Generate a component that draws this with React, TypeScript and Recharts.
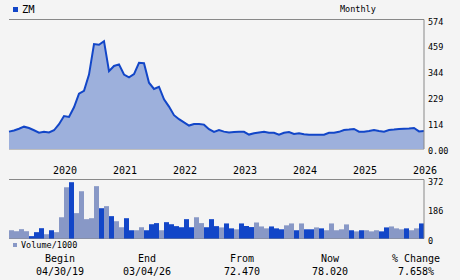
import {
  AreaChart,
  Area,
  BarChart,
  Bar,
  Cell,
  XAxis,
  YAxis,
  CartesianGrid,
} from "recharts";

// monthly closes, Apr 2019 .. Mar 2026
const price = [
  77, 82, 90, 99, 93, 83, 72, 76, 73, 83,
  110, 146, 142, 185, 245, 258, 330, 465, 462, 478,
  345, 368, 375, 330, 318, 332, 382, 380, 294, 266,
  276, 220, 188, 150, 132, 118, 104, 111, 111, 108,
  88, 76, 84, 77, 73, 75, 76, 76, 64, 70,
  73, 76, 72, 72, 63, 72, 75, 67, 70, 65,
  63, 63, 63, 63, 72, 72, 76, 84, 86, 89,
  77, 77, 80, 84, 80, 77, 84, 86, 89, 90,
  91, 93, 78, 80,
];

// volume/1000 per month
const volume = [
  52, 46, 59, 46, 15, 40, 65, 27, 52, 40,
  134, 323, 355, 160, 298, 122, 128, 330, 191, 204,
  141, 109, 71, 128, 52, 52, 71, 52, 90, 97,
  52, 103, 90, 78, 71, 122, 71, 134, 97, 71,
  122, 78, 70, 95, 64, 58, 95, 79, 72, 101,
  76, 64, 76, 64, 58, 83, 95, 52, 95, 58,
  58, 70, 64, 52, 95, 52, 58, 89, 52, 45,
  52, 52, 45, 52, 45, 70, 76, 64, 58, 64,
  52, 64, 95,
];

// 1 = dark bar, 0 = light bar
const volDark = [
  0, 0, 0, 0, 1, 1, 1, 0, 1, 0,
  0, 0, 1, 0, 0, 0, 0, 0, 1, 0,
  1, 0, 0, 1, 1, 0, 0, 1, 1, 1,
  0, 1, 1, 1, 1, 1, 1, 0, 0, 1,
  1, 1, 0, 1, 1, 0, 1, 1, 1, 0,
  0, 0, 1, 1, 1, 0, 0, 1, 0, 1,
  1, 0, 1, 0, 0, 0, 0, 0, 1, 0,
  1, 0, 0, 0, 1, 1, 0, 0, 0, 1,
  0, 0, 1,
];

const yearTicks = [9, 21, 33, 45, 57, 69, 81];
const yearLabels = ["2020", "2021", "2022", "2023", "2024", "2025", "2026"];
const priceTicks = [0, 114.8, 229.6, 344.4, 459.2, 574];
const volTicks = [0, 186, 372];

const summaryLabels = ["Begin", "End", "From", "Now", "% Change"];
const summaryValues = ["04/30/19", "03/04/26", "72.470", "78.020", "7.658%"];
const summaryCenters = [60, 147, 242, 330, 416];

const MONO = "'DejaVu Sans Mono', monospace";
const GRID = "#888888";
const DARK = "#1246c8";
const LIGHT = "#8898c6";

const priceData = price.map((p, i) => ({ i, p }));
const volData = volume.map((v, k) => ({ k, v }));

function RightTick(props: any) {
  const { x, y, payload, fmt } = props;
  return (
    <text x={x} y={y} dy={5} fontSize={8.5} fontFamily={MONO} fill="#000" textAnchor="start">
      {fmt(payload.value)}
    </text>
  );
}

function YearTick(props: any) {
  const { x, payload } = props;
  const idx = yearTicks.indexOf(payload.value);
  return (
    <text x={x - 1} y={174} fontSize={10} fontFamily={MONO} fill="#000" textAnchor="start">
      {yearLabels[idx]}
    </text>
  );
}

export default function App() {
  return (
    <div
      style={{
        position: "absolute",
        left: 0,
        top: 0,
        width: 460,
        height: 280,
        background: "#f4f4f4",
        fontFamily: MONO,
        overflow: "hidden",
      }}
    >
      {/* header */}
      <div style={{ position: "absolute", left: 13, top: 7, width: 5, height: 5, background: DARK }} />
      <div style={{ position: "absolute", left: 22, top: 3, fontSize: 10.5, lineHeight: "12px" }}>ZM</div>
      <div style={{ position: "absolute", left: 340, top: 4, fontSize: 8.5, lineHeight: "10px" }}>Monthly</div>

      <div style={{ position: "absolute", left: 0, top: 0 }}>
        <AreaChart width={460} height={180} data={priceData} margin={{ top: 19.5, right: 0, left: 9, bottom: 0 }}>
          <CartesianGrid vertical={false} stroke={GRID} strokeWidth={1} />
          <XAxis
            type="number"
            dataKey="i"
            domain={[0, 83]}
            ticks={yearTicks}
            axisLine={false}
            tickLine={false}
            height={31}
            tick={<YearTick />}
            interval={0}
          />
          <YAxis
            yAxisId="p"
            orientation="right"
            width={36}
            domain={[0, 574]}
            ticks={priceTicks}
            axisLine={{ stroke: GRID }}
            tickLine={false}
            tickSize={4}
            tickMargin={0}
            interval={0}
            tick={<RightTick fmt={(v: number) => (v === 0 ? "0.00" : String(Math.floor(v)))} />}
          />
          <YAxis yAxisId="l" orientation="left" width={0} tick={false} tickLine={false} axisLine={{ stroke: GRID }} />
          <Area
            yAxisId="p"
            type="linear"
            dataKey="p"
            stroke={DARK}
            strokeWidth={2}
            fill="#9db0dc"
            fillOpacity={1}
            dot={false}
            activeDot={false}
            isAnimationActive={false}
          />
        </AreaChart>
      </div>

      <div style={{ position: "absolute", left: 0, top: 175 }}>
        <BarChart width={460} height={72} data={volData} margin={{ top: 4.5, right: 0, left: 9, bottom: 8.5 }} barCategoryGap={0}>
          <CartesianGrid vertical={false} stroke={GRID} strokeWidth={1} />
          <XAxis dataKey="k" hide />
          <YAxis
            yAxisId="v"
            orientation="right"
            width={36}
            domain={[0, 372]}
            ticks={volTicks}
            axisLine={{ stroke: GRID }}
            tickLine={false}
            tickSize={4}
            tickMargin={0}
            interval={0}
            tick={<RightTick fmt={(v: number) => String(v)} />}
          />
          <YAxis yAxisId="l" orientation="left" width={0} tick={false} tickLine={false} axisLine={{ stroke: GRID }} />
          <Bar yAxisId="v" dataKey="v" isAnimationActive={false}>
            {volData.map((d) => (
              <Cell key={d.k} fill={volDark[d.k] ? DARK : LIGHT} />
            ))}
          </Bar>
        </BarChart>
      </div>

      {/* volume legend */}
      <div style={{ position: "absolute", left: 13, top: 243, width: 4, height: 4, background: LIGHT }} />
      <div style={{ position: "absolute", left: 21, top: 240, fontSize: 8.5, lineHeight: "10px" }}>Volume/1000</div>

      {/* summary */}
      {summaryLabels.map((s, n) => (
        <div
          key={s}
          style={{
            position: "absolute",
            left: summaryCenters[n] - 50,
            width: 100,
            top: 253,
            textAlign: "center",
            fontSize: 10,
            lineHeight: "12px",
          }}
        >
          {s}
          <br />
          <span style={{ position: "relative", top: 1 }}>{summaryValues[n]}</span>
        </div>
      ))}
    </div>
  );
}
